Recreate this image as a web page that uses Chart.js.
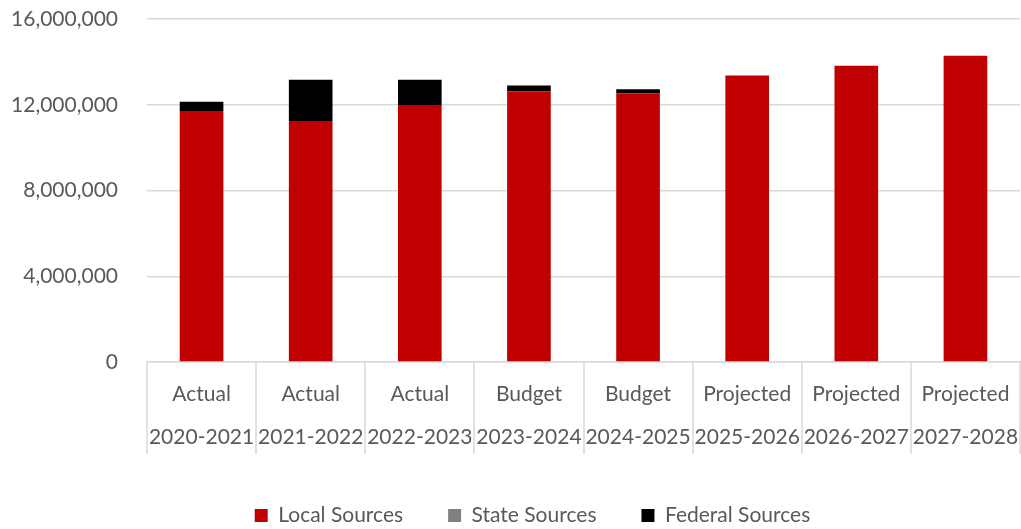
<!DOCTYPE html>
<html>
<head>
<meta charset="utf-8">
<script src="https://cdn.jsdelivr.net/npm/chart.js@4/dist/chart.umd.min.js"></script>
<style>
  html, body { margin: 0; padding: 0; background: #fff; }
  #wrap { width: 1021px; height: 529px; }
</style>
</head>
<body>
<div id="wrap"><canvas id="revenueChart"></canvas></div>
<script>
// Categories: two-row labels (status / fiscal year)
var periods = ['Actual', 'Actual', 'Actual', 'Budget', 'Budget', 'Projected', 'Projected', 'Projected'];
var years = ['2020-2021', '2021-2022', '2022-2023', '2023-2024', '2024-2025', '2025-2026', '2026-2027', '2027-2028'];

// Revenue by source
var localSources = [11710000, 11240000, 11990000, 12620000, 12530000, 13370000, 13820000, 14290000];
var stateSources = [0, 0, 0, 0, 0, 0, 0, 0];
var federalSources = [430000, 1930000, 1180000, 280000, 190000, 0, 0, 0];

// Y axis ticks
var yMax = 16000000;
var yStep = 4000000;

var labels = periods.map(function(p, i) { return [p, years[i]]; });

var FONT = 'Lato, "Open Sans", sans-serif';
var TEXT = '#595959';
var GRID = '#d9d9d9';

// vertical separators between the category cells under the x axis,
// and legend nudged right so it sits centred under the plot
var categoryLines = {
  id: 'categoryLines',
  afterLayout: function(chart) {
    var lg = chart.legend;
    lg.left += 45;
  },
  afterDraw: function(chart) {
    var x = chart.scales.x;
    var c = chart.ctx;
    var n = x.ticks.length;
    var half = (x.getPixelForValue(1) - x.getPixelForValue(0)) / 2;
    c.save();
    c.strokeStyle = GRID;
    c.lineWidth = 1.5;
    c.beginPath();
    for (var i = 0; i <= n; i++) {
      var px = Math.round(x.getPixelForValue(0) - half + i * half * 2);
      c.moveTo(px, x.top);
      c.lineTo(px, x.top + 92);
    }
    c.stroke();
    c.restore();
  }
};

var ctx = document.getElementById('revenueChart');
var chart = new Chart(ctx, {
  type: 'bar',
  data: {
    labels: labels,
    datasets: [
      { label: 'Local Sources', data: localSources, backgroundColor: '#c00000' },
      { label: 'State Sources', data: stateSources, backgroundColor: '#808080' },
      { label: 'Federal Sources', data: federalSources, backgroundColor: '#000000' }
    ]
  },
  plugins: [categoryLines],
  options: {
    responsive: true,
    maintainAspectRatio: false,
    animation: false,
    datasets: {
      bar: { barPercentage: 0.4, categoryPercentage: 1.0 }
    },
    layout: { padding: { top: 6, right: 1, left: 0, bottom: -7 } },
    plugins: {
      tooltip: { enabled: false },
      legend: {
        position: 'bottom',
        labels: {
          font: { family: FONT, size: 21 },
          color: TEXT,
          boxWidth: 13,
          boxHeight: 13,
          padding: 45
        }
      }
    },
    scales: {
      x: {
        stacked: true,
        border: { display: true, color: GRID, width: 1.5 },
        grid: { display: false },
        afterFit: function(scale) { scale.height = 98; },
        ticks: {
          font: { family: FONT, size: 21, lineHeight: 2.07 },
          color: TEXT,
          maxRotation: 0,
          autoSkip: false,
          padding: 2
        }
      },
      y: {
        stacked: true,
        min: 0,
        max: yMax,
        border: { display: false },
        grid: { color: GRID, lineWidth: 1.5, drawTicks: false },
        afterFit: function(scale) {
          scale.width = 147;
          scale.paddingTop = 19;
          scale.paddingBottom = 13;
        },
        ticks: {
          stepSize: yStep,
          font: { family: FONT, size: 21 },
          color: TEXT,
          padding: 29,
          callback: function(v) { return v.toLocaleString('en-US'); }
        }
      }
    }
  }
});
</script>
</body>
</html>
